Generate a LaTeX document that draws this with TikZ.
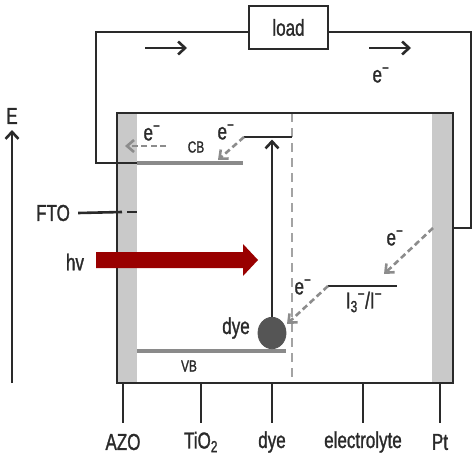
\documentclass[tikz,border=0pt]{standalone}
\usepackage{fontspec}
\setmainfont[FakeStretch=0.74, FakeBold=1.2]{Liberation Sans}
\usetikzlibrary{arrows.meta}
\definecolor{ink}{HTML}{2A2A2A}
\definecolor{strip}{HTML}{C9C9C9}
\definecolor{lvl}{HTML}{8A8A8A}
\definecolor{dgray}{HTML}{8C8C8C}
\definecolor{vgray}{HTML}{A3A3A3}
\definecolor{hvred}{HTML}{990000}
\definecolor{dyefill}{HTML}{555555}
\newcommand{\elec}{e\textsuperscript{−}}
\begin{document}
\begin{tikzpicture}[x=1pt,y=-1pt,
  wire/.style={draw=ink, line width=2.6pt},
  level/.style={draw=lvl, line width=3.8pt},
  barb/.style={-{Straight Barb[length=7pt,width=13pt,line width=2.6pt]}},
  edash/.style={draw=dgray, line width=2.6pt, dash pattern=on 6pt off 3.5pt,
     -{Straight Barb[length=7pt,width=12pt,line width=2.6pt]}},
  vdash/.style={draw=vgray, line width=2.2pt, dash pattern=on 9pt off 6pt},
  lbl/.style={font=\fontsize{23}{23}\selectfont, text=ink, inner sep=0pt},
  sml/.style={font=\fontsize{16}{16}\selectfont, text=ink, inner sep=0pt}]
\useasboundingbox (0,0) rectangle (473,455);

% electrode strips and cell
\fill[strip] (117,113) rectangle (137,383);
\fill[strip] (432,113) rectangle (453,383);
\draw[vdash] (292,113) -- (292,380);
\draw[wire] (117,113) rectangle (453,383);

% load and external circuit
\node[draw=ink, line width=2.6pt, minimum width=79pt, minimum height=43pt, lbl] (load) at (288.5,27.5) {load};
\coordinate (wl) at (96,32);
\coordinate (wr) at (471,32);
\coordinate (wcb) at (137,163);
\coordinate (wpt) at (453,228);
\draw[wire] (load.west |- wl) -- (wl) -- (wl |- wcb) -- (wcb);
\draw[wire] (load.east |- wr) -- (wr) -- (wr |- wpt) -- (wpt);

% current direction arrows
\coordinate (a1s) at (145,48); \coordinate (a1e) at (187,48);
\coordinate (a2s) at (369,48); \coordinate (a2e) at (411,48);
\draw[wire, barb] (a1s) -- (a1e);
\draw[wire, barb] (a2s) -- (a2e);
\node[lbl] (etop) at (381,75) {\elec};

% energy axis
\coordinate (e0) at (12,383);
\node[lbl] (elab) at (12,116) {E};
\draw[wire, barb] (e0) -- (12,130);

% levels
\coordinate (cbL) at (137,163); \coordinate (cbR) at (243,163);
\draw[level] (cbL) -- (cbR);
\node[sml] (cb) at (196,147) {CB};
\coordinate (vbL) at (137,351); \coordinate (vbR) at (286,351);
\draw[level] (vbL) -- (vbR);
\node[sml] (vb) at (189,366) {VB};
\coordinate (luL) at (244,137); \coordinate (luR) at (292,137);
\draw[wire] (luL) -- (luR);
\coordinate (iL) at (328,286); \coordinate (iR) at (397,286);
\draw[wire] (iL) -- (iR);
\node[lbl] (iod) at (364,302) {I\textsubscript{3}\textsuperscript{−}/I\textsuperscript{−}};

% dye
\node[circle, fill=dyefill, draw=ink!80, line width=0.8pt, minimum width=28pt, minimum height=28pt, inner sep=0pt, yscale=1.12] (dye) at (272,333) {};
\node[lbl] (dyelab) at (236,328) {dye};
\draw[wire, barb] (dye.north) -- (272,139.5);

% electron transfer (dashed)
\coordinate (t1s) at (166,146); \coordinate (t1e) at (125,146);
\draw[edash] (t1s) -- (t1e);
\node[lbl] (e1) at (152,133) {\elec};
\draw[edash] (luL) -- (218,160);
\node[lbl] (e2) at (226,132) {\elec};
\coordinate (t3s) at (433,228); \coordinate (t3e) at (384,274);
\draw[edash] (t3s) -- (t3e);
\node[lbl] (e3) at (395,238) {\elec};
\coordinate (t4e) at (287,324);
\draw[edash] (iL) -- (t4e);
\node[lbl] (e4) at (303,287) {\elec};

% FTO
\node[lbl] (fto) at (53,213) {FTO};
\draw[wire] (fto.east) ++(8,0) coordinate (f0) -- (122,212);
\draw[wire] (127,212) -- (137,212);

% light
\node[lbl] (hv) at (75,262) {hv};
\fill[hvred] (96,252) -- (243,252) -- (243,244) -- (258,260) -- (243,276) -- (243,268) -- (96,268) -- cycle;

% layer ticks and labels
\foreach \x/\n/\t in {123/azo/AZO, 201/tio/TiO\textsubscript{2}, 272/dyel/dye, 363/ele/electrolyte, 440/pt/Pt}{
  \node[lbl] (\n) at (\x,442) {\t};
  \draw[wire] (\x,383) -- (\x,423);
}
\end{tikzpicture}
\end{document}
